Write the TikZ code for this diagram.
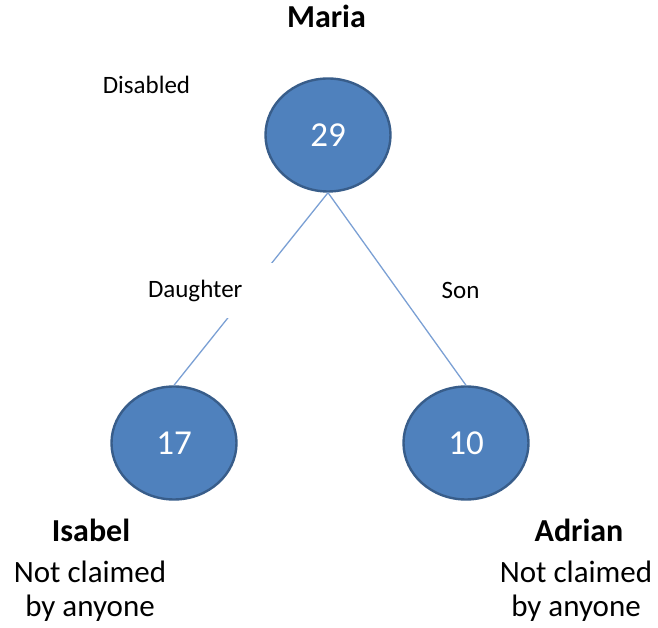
\documentclass[tikz,border=0pt]{standalone}
\usepackage{fontspec}
\setmainfont{Carlito}
\usetikzlibrary{shapes.geometric}
\definecolor{ballfill}{HTML}{4F81BD}
\definecolor{balledge}{HTML}{385D8A}
\definecolor{linkblue}{HTML}{7BA0D4}
\begin{document}
\begin{tikzpicture}[x=1pt, y=1pt,
    ball/.style={ellipse, draw=balledge, line width=2.4pt, fill=ballfill, minimum width=125pt, minimum height=113pt, text=white, font=\fontsize{35}{40}\selectfont},
    link/.style={draw=linkblue, line width=1.3pt},
    rel/.style={font=\fontsize{25}{30}\selectfont},
    who/.style={font=\fontsize{32}{38}\selectfont\bfseries, anchor=base},
    note/.style={font=\fontsize{31}{34}\selectfont, align=center, anchor=base}]
\useasboundingbox (0,0) rectangle (658,628);

\node[ball] (maria) at (328,493) {29};
\node[ball] (isabel) at (174,185) {17};
\node[ball] (adrian) at (466,185) {10};

\draw[link] (maria.south)--(isabel.north);
\draw[link] (maria.south)--(adrian.north);

\node[rel, fill=white, text width=124pt, minimum height=55pt, inner xsep=8pt, align=left] (daughter) at (210,337.5) {Daughter};
\node[rel] (son) at (460.5,338) {Son};
\node[rel] (disabled) at (146.5,543) {Disabled};

\node[who] (marianame) at (326.5,600) {Maria};
\node[who] (isabelname) at (91,86.5) {Isabel};
\node[who] (adrianname) at (579,86.5) {Adrian};
\node[note] (isabelnote) at (90,11.5) {Not claimed\\by anyone};
\node[note] (adriannote) at (576,11.5) {Not claimed\\by anyone};
\end{tikzpicture}
\end{document}
